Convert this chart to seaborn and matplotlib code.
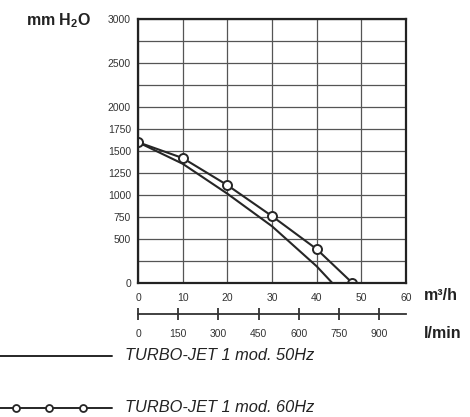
import matplotlib
matplotlib.use("Agg")
import matplotlib.pyplot as plt
import seaborn as sns
import numpy as np

sns.set_theme(style="white")
plt.rcParams['font.family'] = ['Liberation Sans', 'DejaVu Sans']
plt.rcParams['mathtext.fontset'] = 'custom'
plt.rcParams['mathtext.rm'] = 'Liberation Sans:bold'
plt.rcParams['mathtext.it'] = 'Liberation Sans:bold'
plt.rcParams['mathtext.bf'] = 'Liberation Sans:bold'

# Data (flow in m3/h, head in mm H2O)
flow_50 = [0, 10, 20, 30, 40, 43.5]
head_50 = [1600, 1355, 1015, 645, 190, 0]
flow_60 = [0, 10, 20, 30, 40, 48]
head_60 = [1600, 1420, 1112, 760, 385, 0]

x_ticks = [0, 10, 20, 30, 40, 50, 60]
y_ticks = [0, 250, 500, 750, 1000, 1250, 1500, 1750, 2000, 2250, 2500, 2750, 3000]
y_labels = ["0", "", "500", "750", "1000", "1250", "1500", "1750", "2000", "", "2500", "", "3000"]
lmin_ticks = [0, 150, 300, 450, 600, 750, 900]

label_50 = "TURBO-JET 1 mod. 50Hz"
label_60 = "TURBO-JET 1 mod. 60Hz"

W, H = 470, 417
fig = plt.figure(figsize=(W / 100, H / 100), dpi=100)
ax = fig.add_axes([138 / W, 1 - 283 / H, (406 - 138) / W, (283 - 19) / H])

dark = "#262626"
sns.lineplot(x=flow_50, y=head_50, ax=ax, color=dark, lw=1.5, sort=False)
sns.lineplot(x=flow_60, y=head_60, ax=ax, color=dark, lw=1.5, sort=False,
             marker='o', markersize=6.5, markerfacecolor='white',
             markeredgecolor=dark, markeredgewidth=1.4)

ax.set_xlim(0, 60)
ax.set_ylim(0, 3000)
ax.set_xticks(x_ticks)
ax.set_yticks(y_ticks)
ax.set_yticklabels(y_labels)
ax.grid(True, color="#555555", lw=0.9)
ax.set_axisbelow(True)
for s in ax.spines.values():
    s.set_color("#222222")
    s.set_linewidth(1.6)
ax.tick_params(axis='both', length=0, labelsize=7.5, colors="#333333")
ax.tick_params(axis='x', pad=7)
ax.tick_params(axis='y', pad=5)

# secondary axis: l/min
secax = ax.secondary_xaxis('bottom', functions=(lambda q: q * 1000 / 60, lambda l: l * 60 / 1000))
secax.set_xticks(lmin_ticks)
secax.spines['bottom'].set_position(('outward', 22.5))
secax.spines['bottom'].set_linewidth(1.3)
secax.spines['bottom'].set_color("#333333")
secax.tick_params(axis='x', direction='inout', length=9, width=1.3, color="#333333",
                  labelsize=7.5, pad=6, labelcolor="#333333")

fig.text(26 / W, 1 - 21 / H, r"mm H$_2$O", fontsize=11.5, fontweight='bold',
         va='center', ha='left', color="#222222")
fig.text(424 / W, 1 - 296 / H, "m³/h", fontsize=11.5, fontweight='bold',
         va='center', ha='left', color="#222222")
fig.text(424 / W, 1 - 334 / H, "l/min", fontsize=11.5, fontweight='bold',
         va='center', ha='left', color="#222222")

# legend drawn in pixel coordinates
lax = fig.add_axes([0, 0, 1, 1], zorder=-1)
lax.set_xlim(0, W)
lax.set_ylim(H, 0)
lax.axis('off')
lax.plot([0, 112], [356, 356], color=dark, lw=1.4)
lax.plot([0, 112], [408, 408], color=dark, lw=1.4)
lax.plot([16, 49, 83], [408, 408, 408], ls='none', marker='o', markersize=5,
         markerfacecolor='white', markeredgecolor=dark, markeredgewidth=1.3)
lax.text(125, 356, label_50, fontsize=11.8, fontstyle='italic', va='center', ha='left', color="#222222")
lax.text(125, 408, label_60, fontsize=11.8, fontstyle='italic', va='center', ha='left', color="#222222")

fig.savefig("out.png", dpi=100)
